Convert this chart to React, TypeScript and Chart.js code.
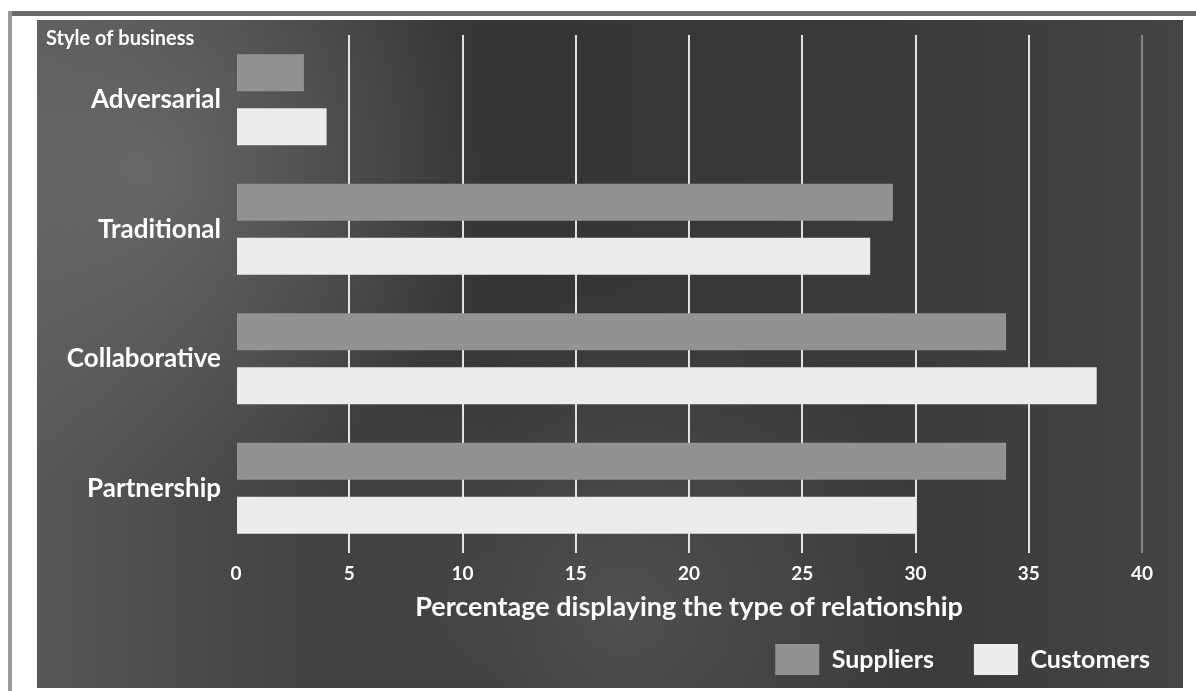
import React, { useEffect, useRef } from "react";
import { Chart, registerables } from "chart.js";

Chart.register(...registerables);

const categories = ["Adversarial", "Traditional", "Collaborative", "Partnership"];
const suppliers = [3, 29, 34, 34];
const customers = [4, 28, 38, 30];
const seriesNames = ["Suppliers", "Customers"];
const xMin = 0;
const xMax = 40;
const xStep = 5;
const axisTitle = "Percentage displaying the type of relationship";
const panelTitle = "Style of business";

const FONT = "Lato, 'Open Sans', sans-serif";

const backdrop = {
  id: "backdrop",
  beforeDraw(chart: any) {
    const { ctx, width, height } = chart;
    ctx.save();
    ctx.fillStyle = "#ffffff";
    ctx.fillRect(0, 0, width, height);
    // scan frame
    ctx.fillStyle = "#6a6a6a";
    ctx.fillRect(8, 11, width - 8, 5);
    ctx.fillStyle = "#9a9a9a";
    ctx.fillRect(8, 11, 4, height - 11);
    // dark panel
    const px = 37, py = 20, pw = 1146, ph = 668;
    const g = ctx.createLinearGradient(px, 0, px + pw, 0);
    g.addColorStop(0, "#575757");
    g.addColorStop(0.18, "#474747");
    g.addColorStop(0.4, "#353535");
    g.addColorStop(0.75, "#3a3a3a");
    g.addColorStop(1, "#444444");
    ctx.fillStyle = g;
    ctx.fillRect(px, py, pw, ph);
    const r = ctx.createRadialGradient(150, 170, 10, 150, 170, 330);
    r.addColorStop(0, "rgba(130,130,130,0.45)");
    r.addColorStop(1, "rgba(130,130,130,0)");
    ctx.fillStyle = r;
    ctx.fillRect(px, py, pw, ph);
    const r2 = ctx.createRadialGradient(620, 610, 10, 620, 610, 320);
    r2.addColorStop(0, "rgba(115,115,115,0.4)");
    r2.addColorStop(1, "rgba(115,115,115,0)");
    ctx.fillStyle = r2;
    ctx.fillRect(px, py, pw, ph);
    // panel title
    ctx.fillStyle = "#ffffff";
    ctx.font = `bold 20px ${FONT}`;
    ctx.textAlign = "left";
    ctx.textBaseline = "middle";
    ctx.fillText(panelTitle, 46, 39);
    ctx.restore();
  },
};

export default function App() {
  const canvasRef = useRef<HTMLCanvasElement | null>(null);

  useEffect(() => {
    if (!canvasRef.current) return;
    const chart = new Chart(canvasRef.current, {
      type: "bar",
      data: {
        labels: categories,
        datasets: [
          {
            label: seriesNames[0],
            data: suppliers,
            backgroundColor: "#929292",
            borderWidth: 0,
            categoryPercentage: 0.835,
            barPercentage: 0.685,
          },
          {
            label: seriesNames[1],
            data: customers,
            backgroundColor: "#ececec",
            borderWidth: 0,
            categoryPercentage: 0.835,
            barPercentage: 0.685,
          },
        ],
      },
      options: {
        indexAxis: "y",
        animation: false,
        responsive: false,
        devicePixelRatio: 1,
        layout: { padding: { top: 35, right: 6, bottom: 6, left: 0 } },
        scales: {
          x: {
            type: "linear",
            position: "bottom",
            min: xMin,
            max: xMax,
            ticks: {
              stepSize: xStep,
              color: "#ffffff",
              font: { family: FONT, size: 19, weight: "bold" },
              padding: 9,
            },
            grid: {
              drawTicks: false,
              lineWidth: 2,
              color: (c: any) =>
                c.tick && c.tick.value === xMin
                  ? "rgba(0,0,0,0)"
                  : c.tick && c.tick.value === xMax
                  ? "rgba(255,255,255,0.35)"
                  : "rgba(255,255,255,0.85)",
            },
            border: { display: false },
            title: {
              display: true,
              text: axisTitle,
              color: "#ffffff",
              font: { family: FONT, size: 27, weight: "bold" },
              padding: { top: 0, bottom: -19 },
            },
            afterFit: (s: any) => {
              s.height = 51;
            },
          },
          y: {
            type: "category",
            position: "left",
            grid: { display: false, drawTicks: false },
            border: { display: false },
            ticks: {
              color: "#ffffff",
              font: { family: FONT, size: 26, weight: "bold" },
              padding: 15,
            },
            afterFit: (s: any) => {
              s.width = 236;
            },
          },
          yRight: {
            type: "category",
            position: "right",
            display: true,
            grid: { display: false, drawTicks: false },
            border: { display: false },
            ticks: { display: false },
            afterFit: (s: any) => {
              s.width = 48;
            },
          },
        },
        plugins: {
          legend: {
            display: true,
            position: "bottom",
            align: "end",
            labels: {
              color: "#ffffff",
              font: { family: FONT, size: 25, weight: "bold" },
              boxWidth: 44,
              boxHeight: 31,
              padding: 40,
            },
          },
          title: { display: false },
          tooltip: { enabled: false },
        },
      },
      plugins: [backdrop],
    } as any);
    return () => chart.destroy();
  }, []);

  return (
    <div style={{ position: "absolute", left: 0, top: 0, width: 1196, height: 691 }}>
      <canvas ref={canvasRef} width={1196} height={691} style={{ display: "block" }} />
    </div>
  );
}
